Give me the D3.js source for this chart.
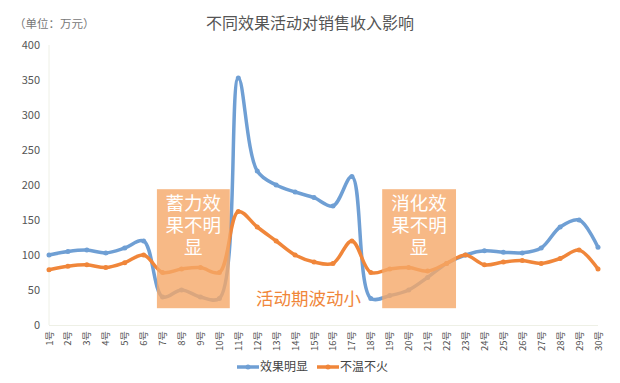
<!DOCTYPE html>
<html><head><meta charset="utf-8">
<script src="https://cdn.jsdelivr.net/npm/d3@7"></script>
<style>
body{margin:0;background:#fff;}
text{font-family:"Noto Sans CJK SC","Noto Sans",sans-serif;}
</style></head>
<body><svg id="c" width="620" height="383"></svg>
<script>
const days = d3.range(1, 31).map(d => d + "号");
const obvious = [100,105,107,103,110,120,40,50,40,38,353,220,200,190,182,170,212,38,42,50,68,88,100,106,104,103,110,140,150,111];
const mild = [79,84,86,82,89,100,75,80,82,75,162,140,120,100,90,88,120,75,80,82,77,88,100,86,90,92,88,95,107,80];
const yTicks = [0,50,100,150,200,250,300,350,400];
const seriesNames = ["效果明显","不温不火"];
const boxes = [
  {from: 6.7, to: 10.55, lines: ["蓄力效","果不明","显"]},
  {from: 18.6, to: 22.5, lines: ["消化效","果不明","显"]}
];
const boxRange = [24, 194];
const title = "不同效果活动对销售收入影响";
const unit = "（单位：万元）";
const note = "活动期波动小";

const colors = ["#6f9fd4", "#f0863a"];
const svg = d3.select("#c");
const x = d3.scaleLinear().domain([1, 30]).range([49, 598]);
const y = d3.scaleLinear().domain([0, 400]).range([325, 45]);

// axes lines (faint)
svg.append("line").attr("x1", 49).attr("x2", 49).attr("y1", y(400)).attr("y2", y(0)).attr("stroke", "#eef0e6").attr("stroke-width", 1);
svg.append("line").attr("x1", 49).attr("x2", 598).attr("y1", y(0)+0.5).attr("y2", y(0)+0.5).attr("stroke", "#eef0e6").attr("stroke-width", 1);

// y labels
svg.append("g").selectAll("text").data(yTicks).join("text")
  .attr("x", 40).attr("y", d => y(d)).attr("dy", "0.35em").attr("text-anchor", "end")
  .attr("font-size", 11).attr("fill", "#555").text(d => d);

// x labels
svg.append("g").selectAll("text").data(days).join("text")
  .attr("transform", (d, i) => `translate(${x(i+1)+3.5},331) rotate(-90)`)
  .attr("text-anchor", "end").attr("font-size", 9.5).attr("fill", "#555").text(d => d);

const line = d3.line().x((d, i) => x(i+1)).y(d => y(d)).curve(d3.curveCatmullRom.alpha(0.5));
[obvious, mild].forEach((s, k) => {
  svg.append("path").datum(s).attr("d", line).attr("fill", "none")
    .attr("stroke", colors[k]).attr("stroke-width", 3.5).attr("stroke-linejoin", "round");
  svg.append("g").selectAll("circle").data(s).join("circle")
    .attr("cx", (d, i) => x(i+1)).attr("cy", d => y(d)).attr("r", 2.5).attr("fill", colors[k]);
});

// boxes
boxes.forEach(b => {
  svg.append("rect").attr("x", x(b.from)).attr("width", x(b.to) - x(b.from))
    .attr("y", y(boxRange[1])).attr("height", y(boxRange[0]) - y(boxRange[1]))
    .attr("fill", "#f5a868").attr("opacity", 0.8);
  const cx = (x(b.from) + x(b.to)) / 2;
  const t = svg.append("text").attr("text-anchor", "middle").attr("font-size", 18.5).attr("fill", "#fff");
  t.selectAll("tspan").data(b.lines).join("tspan")
    .attr("x", cx).attr("y", (d, i) => y(boxRange[1]) + 21 + i * 22).text(d => d);
});

// note
svg.append("text").attr("x", 256).attr("y", 305).attr("font-size", 17.5).attr("fill", "#f0863a").text(note);

// title & unit
svg.append("text").attr("x", 310).attr("y", 29).attr("text-anchor", "middle").attr("font-size", 16).attr("fill", "#555").text(title);
svg.append("text").attr("x", 14).attr("y", 28).attr("font-size", 11.5).attr("fill", "#777").text(unit);

// legend
const lg = [{x0: 237, name: seriesNames[0], c: colors[0]}, {x0: 317, name: seriesNames[1], c: colors[1]}];
lg.forEach(l => {
  svg.append("line").attr("x1", l.x0).attr("x2", l.x0 + 22).attr("y1", 367).attr("y2", 367).attr("stroke", l.c).attr("stroke-width", 3.5);
  svg.append("circle").attr("cx", l.x0 + 11).attr("cy", 367).attr("r", 2.5).attr("fill", l.c);
  svg.append("text").attr("x", l.x0 + 23).attr("y", 367).attr("dy", "0.35em").attr("font-size", 12).attr("fill", "#444").text(l.name);
});
</script></body></html>
